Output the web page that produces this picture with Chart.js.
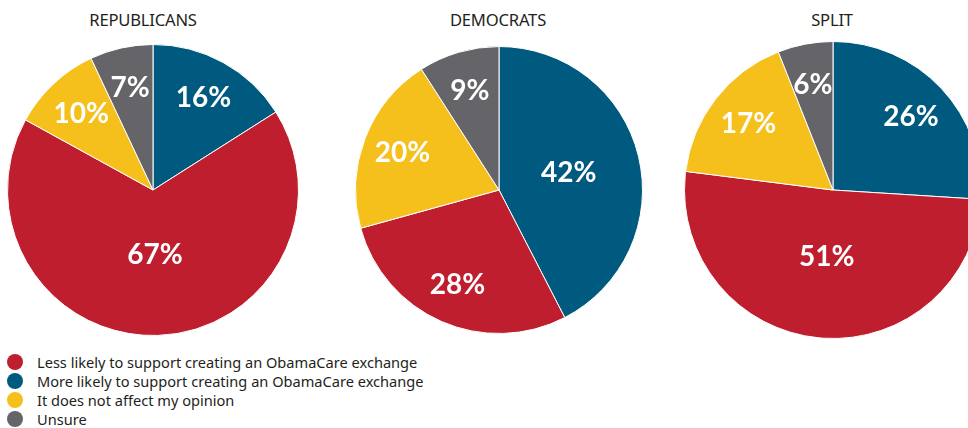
<!DOCTYPE html>
<html>
<head>
<meta charset="utf-8">
<script src="https://cdn.jsdelivr.net/npm/chart.js@4.4.1/dist/chart.umd.min.js"></script>
<style>
  html, body { margin: 0; padding: 0; background: #fff; }
  body { width: 968px; height: 428px; position: relative; overflow: hidden; font-family: "Noto Sans", "Open Sans", sans-serif; }
  .title { position: absolute; top: 8px; font-size: 16.6px; color: #231f20; text-align: center; width: 240px; letter-spacing: -0.2px; }
  .pie { position: absolute; }
  .legend { position: absolute; left: 7px; top: 352px; font-size: 14.6px; color: #231f20; }
  .legend div { display: flex; align-items: center; height: 19px; }
  .legend span.dot { width: 16px; height: 16px; border-radius: 50%; display: inline-block; margin-right: 14px; }
</style>
</head>
<body>
<div id="t0" class="title"></div>
<div id="t1" class="title"></div>
<div id="t2" class="title"></div>
<div class="pie" style="left:7px;top:44px;width:292px;height:292px"><canvas id="c0"></canvas></div>
<div class="pie" style="left:355px;top:46px;width:288px;height:288px"><canvas id="c1"></canvas></div>
<div class="pie" style="left:684px;top:41px;width:298px;height:298px"><canvas id="c2"></canvas></div>
<div class="legend" id="legend"></div>
<script>
// slices clockwise from 12 o'clock
const categories = [
  'More likely to support creating an ObamaCare exchange',
  'Less likely to support creating an ObamaCare exchange',
  'It does not affect my opinion',
  'Unsure'
];
const colors = ['#005a80', '#be1e2d', '#f5c01b', '#646469'];
const legendOrder = [1, 0, 2, 3];

const titles = ['REPUBLICANS', 'DEMOCRATS', 'SPLIT'];
const republicans = [16, 67, 10, 7];
const democrats = [42, 28, 20, 9];
const split = [26, 51, 17, 6];
const titleCenters = [143, 498, 832];

// white % labels inside the slices
const pctLabels = {
  id: 'pctLabels',
  afterDatasetsDraw(chart) {
    const { ctx } = chart;
    const ds = chart.data.datasets[0];
    chart.getDatasetMeta(0).data.forEach((arc, i) => {
      const v = ds.data[i];
      const frac = v >= 50 ? 0.45 : v >= 35 ? 0.5 : 0.72;
      const mid = (arc.startAngle + arc.endAngle) / 2;
      const r = arc.outerRadius * frac;
      ctx.save();
      ctx.fillStyle = '#fff';
      ctx.font = 'bold 28px Lato, "Noto Sans", sans-serif';
      ctx.textAlign = 'center';
      ctx.textBaseline = 'middle';
      ctx.fillText(v + '%', arc.x + Math.cos(mid) * r, arc.y + Math.sin(mid) * r);
      ctx.restore();
    });
  }
};

[republicans, democrats, split].forEach((vals, k) => {
  const t = document.getElementById('t' + k);
  t.textContent = titles[k];
  t.style.left = (titleCenters[k] - 120) + 'px';
  new Chart(document.getElementById('c' + k), {
    type: 'pie',
    data: {
      labels: categories,
      datasets: [{ data: vals, backgroundColor: colors, borderColor: '#fff', borderWidth: 1 }]
    },
    options: {
      responsive: true, maintainAspectRatio: false, animation: false,
      layout: { padding: 0 },
      plugins: { legend: { display: false }, tooltip: { enabled: false } }
    },
    plugins: [pctLabels]
  });
});

document.getElementById('legend').innerHTML = legendOrder.map((i) =>
  `<div><span class="dot" style="background:${colors[i]}"></span>${categories[i]}</div>`).join('');
</script>
</body>
</html>
